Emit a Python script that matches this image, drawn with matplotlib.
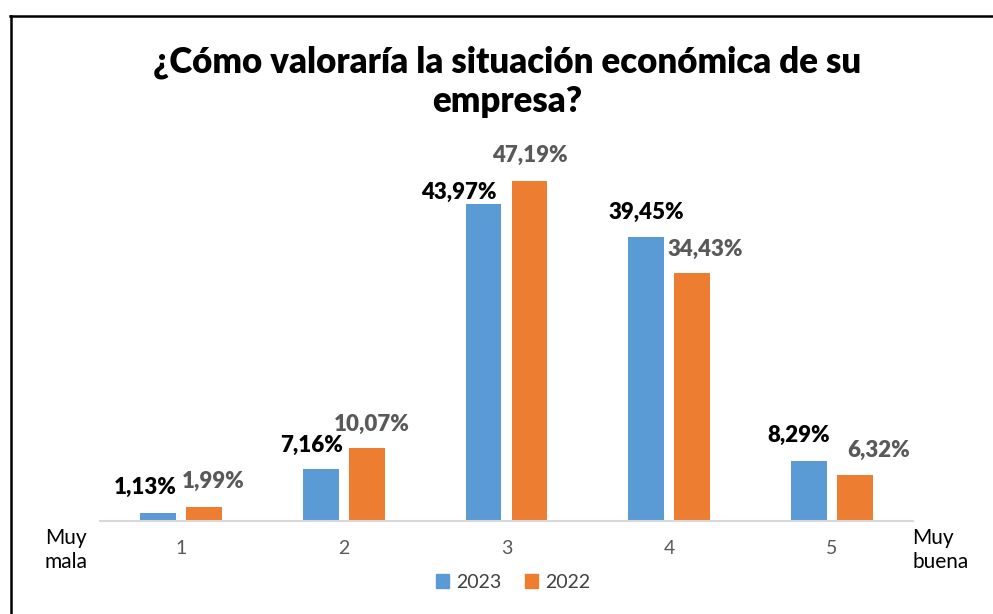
import matplotlib
matplotlib.use('Agg')
from matplotlib import pyplot as plt
from matplotlib.lines import Line2D
from matplotlib.patches import Patch
import numpy as np

# 데이터
categorias = ['1', '2', '3', '4', '5']
valores_2023 = [1.13, 7.16, 43.97, 39.45, 8.29]
valores_2022 = [1.99, 10.07, 47.19, 34.43, 6.32]
etiquetas_2023 = ['1,13%', '7,16%', '43,97%', '39,45%', '8,29%']
etiquetas_2022 = ['1,99%', '10,07%', '47,19%', '34,43%', '6,32%']

# 라벨 위치 보정 (픽셀)
ajuste_2023 = [(-13, 25), (-9, 24), (-25, 12), (0, 25), (-10, 26)]
ajuste_2022 = [(9, 25), (5, 24), (0, 26), (13, 24), (24, 25)]

plt.rcParams['font.family'] = ['Lato', 'DejaVu Sans']

fig = plt.figure(figsize=(9.93, 6.14), dpi=100)
ax = fig.add_axes([100 / 993, 93 / 614, 813 / 993, 360 / 614])

x = np.arange(1, 6)
azul = '#5B9BD5'
naranja = '#ED7D31'
ancho = 0.22
sep = 0.1415

b1 = ax.bar(x - sep, valores_2023, ancho, color=azul, label='2023', zorder=2)
b2 = ax.bar(x + sep, valores_2022, ancho, color=naranja, label='2022', zorder=2)

for bar, txt, (dx, dy) in zip(b1, etiquetas_2023, ajuste_2023):
    ax.annotate(txt, (bar.get_x() + bar.get_width() / 2, bar.get_height()),
                xytext=(dx, dy), textcoords='offset pixels',
                ha='center', va='center', fontsize=16, fontweight='heavy',
                color='#000000')
for bar, txt, (dx, dy) in zip(b2, etiquetas_2022, ajuste_2022):
    ax.annotate(txt, (bar.get_x() + bar.get_width() / 2, bar.get_height()),
                xytext=(dx, dy), textcoords='offset pixels',
                ha='center', va='center', fontsize=16, fontweight='heavy',
                color='#595959')

ax.set_xlim(0.5, 5.5)
ax.set_ylim(0, 50)
ax.set_xticks(x)
ax.set_xticklabels(categorias, fontsize=14, color='#595959')
ax.tick_params(axis='x', length=0, pad=14)
ax.set_yticks([])
for s in ['top', 'right', 'left']:
    ax.spines[s].set_visible(False)
ax.spines['bottom'].set_color('#d9d9d9')
ax.spines['bottom'].set_linewidth(1.5)

# 제목 (두 줄)
fig.text(507 / 993, 1 - 62 / 614,
         '¿Cómo valoraría la situación económica de su',
         ha='center', va='center', fontsize=25, fontweight='heavy',
         color='#000000')
fig.text(507 / 993, 1 - 102 / 614, 'empresa?',
         ha='center', va='center', fontsize=25, fontweight='heavy',
         color='#000000')

# 양 끝 설명
fig.text(45 / 993, 1 - 550 / 614, 'Muy\nmala', ha='left', va='center',
         fontsize=15, color='#000000', linespacing=1.2)
fig.text(912 / 993, 1 - 550 / 614, 'Muy\nbuena', ha='left', va='center',
         fontsize=15, color='#000000', linespacing=1.2)

# 범례
handles = [Patch(color=azul), Patch(color=naranja)]
fig.legend(handles, ['2023', '2022'], loc='center',
           bbox_to_anchor=(513 / 993, 1 - 582 / 614), ncol=2, frameon=False,
           fontsize=14, handlelength=0.7, handleheight=0.7,
           handletextpad=0.35, columnspacing=1.2, labelcolor='#404040')

# 테두리
fig.add_artist(Line2D([10.5 / 993, 10.5 / 993], [0, 1 - 15.5 / 614],
                      transform=fig.transFigure, color='black', linewidth=1.8))
fig.add_artist(Line2D([9.6 / 993, 1], [1 - 15.5 / 614, 1 - 15.5 / 614],
                      transform=fig.transFigure, color='black', linewidth=1.8))

fig.savefig('out.png', dpi=100)
plt.close()
